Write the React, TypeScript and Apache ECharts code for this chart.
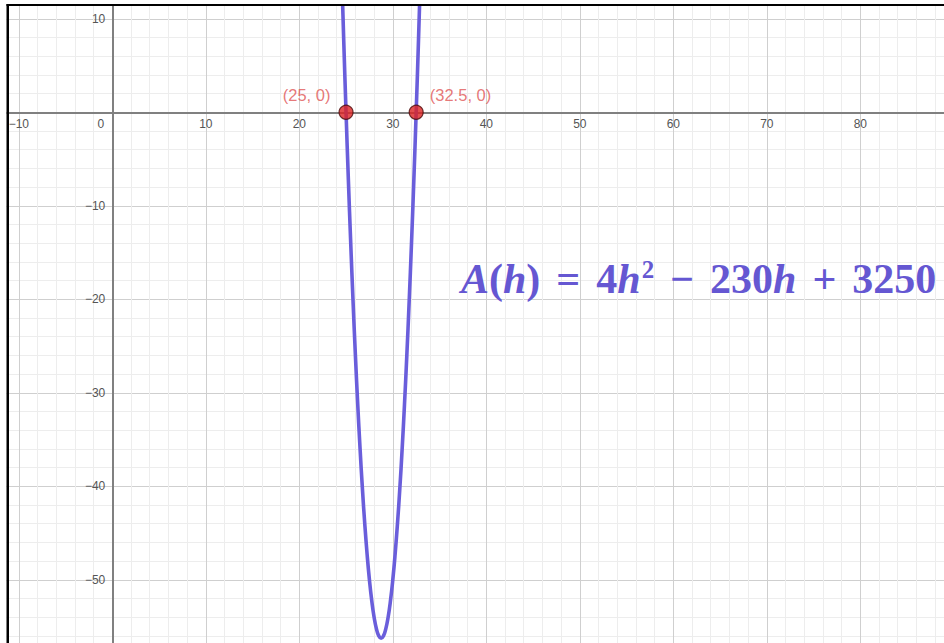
import React, { useEffect, useRef } from "react";
import * as echarts from "echarts";

// Sampled points of the curve A(h), read along the plotted parabola
const hValues = [
  24.5, 24.75, 25, 25.25, 25.5, 25.75, 26, 26.25, 26.5, 26.75, 27, 27.25, 27.5,
  27.75, 28, 28.25, 28.5, 28.75, 29, 29.25, 29.5, 29.75, 30, 30.25, 30.5, 30.75,
  31, 31.25, 31.5, 31.75, 32, 32.25, 32.5, 32.75, 33,
];
const aValues = [
  16, 7.75, 0, -7.25, -14, -20.25, -26, -31.25, -36, -40.25, -44, -47.25, -50,
  -52.25, -54, -55.25, -56, -56.25, -56, -55.25, -54, -52.25, -50, -47.25, -44,
  -40.25, -36, -31.25, -26, -20.25, -14, -7.25, 0, 7.75, 16,
];

// Marked roots
const rootH = [25, 32.5];
const rootA = [0, 0];
const rootLabels = ["(25, 0)", "(32.5, 0)"];

// Axis ranges and tick spacing
const xRange = [-20, 90];
const yRange = [-60, 20];
const xLabelled = [-10, 0, 10, 20, 30, 40, 50, 60, 70, 80];
const yLabelled = [10, -10, -20, -30, -40, -50];
const tickStep = 10;
const minorSplits = 5;

const fmt = (v: number) => (v < 0 ? "\u2212" + Math.abs(v) : String(v));

export default function App() {
  const ref = useRef<HTMLDivElement>(null);

  useEffect(() => {
    document.body.style.margin = "0";
    if (!ref.current) return;
    const chart = echarts.init(ref.current, null, { renderer: "svg" });

    // layout: 9.35 px per unit, origin at (112.3, 112.3)
    const unit = 9.35;
    const ox = 112.3;
    const oy = 112.3;
    const gLeft = ox + xRange[0] * unit;
    const gTop = oy - yRange[1] * unit;
    const gWidth = (xRange[1] - xRange[0]) * unit;
    const gHeight = (yRange[1] - yRange[0]) * unit;
    const gBottomY = gTop + gHeight;

    const curveColor = "#6a5edb";
    const eqColor = "#6557d2";
    const eqFont = "'Liberation Serif', 'Times New Roman', serif";
    const eqSize = 42;
    const gap = 16;
    const base = {
      fontFamily: eqFont,
      fontWeight: "bold" as const,
      fontSize: eqSize,
      lineHeight: 44,
      fill: eqColor,
      color: eqColor,
    };
    const tickFont = "'Liberation Sans', Arial, sans-serif";

    const axisCommon = {
      type: "value" as const,
      interval: tickStep,
      axisLine: { onZero: false, lineStyle: { color: "#808080", width: 2 } },
      axisTick: { show: false },
      minorTick: { show: false, splitNumber: minorSplits },
      splitLine: { show: true, lineStyle: { color: "#cfcfcf", width: 1 } },
      minorSplitLine: { show: true, lineStyle: { color: "#ededed", width: 1 } },
    };

    chart.setOption({
      animation: false,
      backgroundColor: "#ffffff",
      grid: {
        left: gLeft,
        top: gTop,
        width: gWidth,
        height: gHeight,
        outerBoundsMode: "none",
        containLabel: false,
      },
      xAxis: {
        ...axisCommon,
        position: "bottom",
        offset: -(gBottomY - oy),
        min: xRange[0],
        max: xRange[1],
        axisLabel: {
          color: "#555555",
          fontSize: 12,
          fontFamily: tickFont,
          margin: 6,
          formatter: (v: number) =>
            !xLabelled.includes(v) ? "" : v === 0 ? "{z|0}" : fmt(v),
          rich: {
            z: {
              color: "#555555",
              fontSize: 12,
              fontFamily: tickFont,
              padding: [0, 23, 0, 0],
            },
          },
        },
      },
      yAxis: {
        ...axisCommon,
        position: "left",
        offset: -(ox - gLeft),
        min: yRange[0],
        max: yRange[1],
        axisLabel: {
          color: "#555555",
          fontSize: 12,
          fontFamily: tickFont,
          margin: 7,
          formatter: (v: number) => (yLabelled.includes(v) ? fmt(v) : ""),
        },
      },
      series: [
        {
          type: "line",
          data: hValues.map((h, i) => [h, aValues[i]]),
          smooth: true,
          symbol: "none",
          clip: true,
          lineStyle: { color: curveColor, width: 3.6 },
          z: 3,
        },
        {
          type: "scatter",
          data: rootH.map((h, i) => ({
            value: [h, rootA[i]],
            label: {
              position: i === 0 ? "left" : "right",
              distance: i === 0 ? 8 : 6,
            },
          })),
          symbol: "circle",
          symbolSize: 14,
          itemStyle: { color: "#dc2323", borderColor: "#4a0a0a", borderWidth: 1.2 },
          label: {
            show: true,
            formatter: (p: any) => rootLabels[p.dataIndex],
            color: "#e05555",
            fontSize: 16.5,
            fontFamily: tickFont,
            offset: [0, -17],
          },
          z: 5,
        },
      ],
      graphic: [
        {
          type: "text",
          x: 461,
          y: 279,
          z: 10,
          style: {
            ...base,
            verticalAlign: "middle",
            text:
              "{i|A}{n|(}{i|h}{n|)}{o|=}{n|4}{i|h}{s|2}{o|\u2212}{n|230}{i|h}{o|+}{n|3250}",
            rich: {
              i: { ...base, fontStyle: "italic" },
              n: { ...base },
              o: { ...base, padding: [0, gap, 0, gap] },
              s: {
                ...base,
                fontSize: 25,
                lineHeight: 25,
                verticalAlign: "top",
                padding: [0, 0, 0, 1],
              },
            },
          },
        },
        // white surround outside the frame
        { type: "rect", z: 20, shape: { x: 0, y: 0, width: 944, height: 4 }, style: { fill: "#ffffff" } },
        { type: "rect", z: 20, shape: { x: 0, y: 0, width: 6.5, height: 643 }, style: { fill: "#ffffff" } },
        // black frame lines
        { type: "rect", z: 21, shape: { x: 6.5, y: 4, width: 938, height: 2 }, style: { fill: "#000000" } },
        { type: "rect", z: 21, shape: { x: 6.5, y: 4, width: 2.5, height: 639 }, style: { fill: "#000000" } },
      ],
    });

    return () => chart.dispose();
  }, []);

  return <div ref={ref} style={{ width: 944, height: 643, background: "#fff" }} />;
}
